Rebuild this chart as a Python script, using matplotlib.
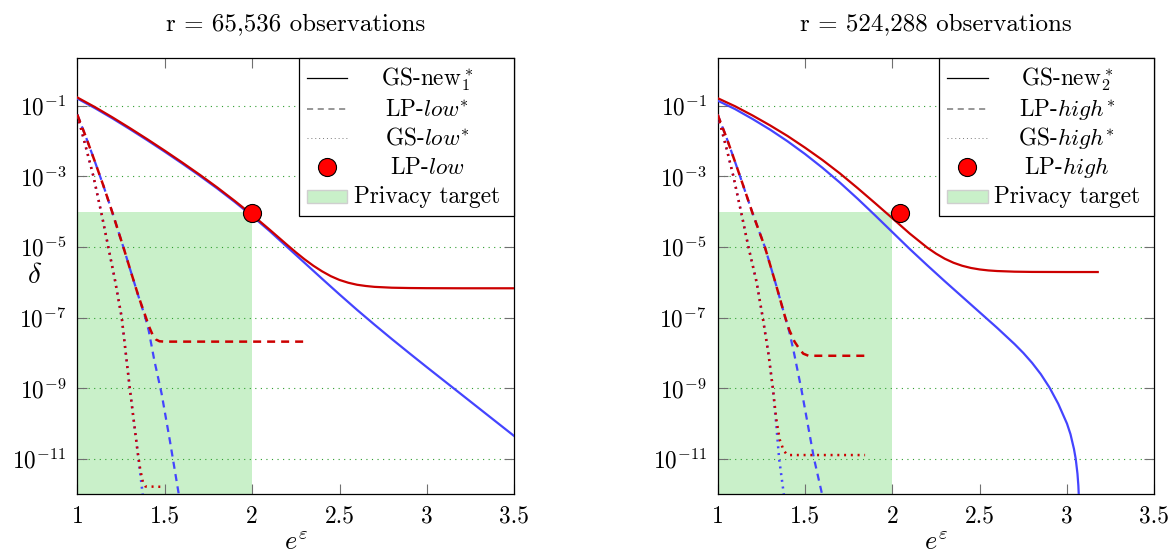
import numpy as np
import matplotlib
matplotlib.use('Agg')
import matplotlib.pyplot as plt
from matplotlib.patches import Rectangle
from matplotlib.ticker import NullLocator

plt.rcParams['font.family'] = 'cmr10'
plt.rcParams['mathtext.fontset'] = 'cm'
plt.rcParams['axes.formatter.use_mathtext'] = True
plt.rcParams['font.size'] = 16.8

RED = '#cc0000'
BLUE = '#4444ff'
TARGET = '#c9f0c9'

# all delta values below are log10(delta)

# ---- r = 65,536 ----
new1_blue_x = [1.0, 1.1, 1.2, 1.3, 1.4, 1.5, 1.6, 1.7, 1.8, 1.9, 2.0, 2.1, 2.2,
               2.3, 2.4, 2.5, 2.6, 2.7, 2.8, 2.9, 3.0, 3.1, 3.2, 3.3, 3.4, 3.5]
new1_blue = [-0.80, -1.07, -1.36, -1.665, -1.98, -2.305, -2.64, -2.985, -3.345,
             -3.725, -4.125, -4.55, -5.0, -5.45, -5.9, -6.345, -6.78, -7.2, -7.61,
             -8.01, -8.405, -8.795, -9.185, -9.575, -9.965, -10.355]
new1_red_x = [1.0, 1.1, 1.2, 1.3, 1.4, 1.5, 1.6, 1.7, 1.8, 1.9, 2.0, 2.1, 2.2,
              2.25, 2.3, 2.35, 2.4, 2.45, 2.5, 2.55, 2.6, 2.65, 2.7, 2.8, 2.9,
              3.0, 3.2, 3.5]
new1_red = [-0.77, -1.04, -1.33, -1.635, -1.95, -2.275, -2.61, -2.955, -3.315,
            -3.695, -4.09, -4.51, -4.94, -5.151, -5.35, -5.531, -5.69, -5.827,
            -5.935, -6.013, -6.07, -6.105, -6.13, -6.154, -6.163, -6.167, -6.17,
            -6.17]

lplow_red_x = [1.0, 1.05, 1.1, 1.13, 1.15, 1.2, 1.25, 1.263, 1.3, 1.35, 1.389,
               1.41, 1.43, 1.45, 1.47, 1.5, 2.316]
lplow_red = [-1.26, -1.9, -2.58, -3.0, -3.28, -4.02, -4.8, -5.0, -5.6, -6.4, -6.95,
             -7.25, -7.48, -7.62, -7.67, -7.68, -7.68]
lplow_blue_x = [1.0, 1.05, 1.1, 1.13, 1.15, 1.2, 1.25, 1.263, 1.3, 1.35, 1.389,
                1.408, 1.44, 1.482, 1.53, 1.582]
lplow_blue = [-1.26, -1.9, -2.58, -3.0, -3.28, -4.02, -4.8, -5.0, -5.6, -6.4, -7.0,
              -7.36, -8.2, -9.15, -10.5, -12.05]

gslow_red_x = [1.0, 1.05, 1.092, 1.14, 1.177, 1.215, 1.254, 1.277, 1.30, 1.325,
               1.345, 1.36, 1.375, 1.39, 1.5]
gslow_red = [-1.26, -2.2, -3.0, -4.1, -5.0, -5.93, -7.0, -8.0, -9.0, -10.0,
             -10.8, -11.3, -11.65, -11.78, -11.79]
gslow_blue_x = [1.0, 1.05, 1.092, 1.14, 1.177, 1.215, 1.254, 1.277, 1.30, 1.325,
                1.35, 1.375]
gslow_blue = [-1.26, -2.2, -3.0, -4.1, -5.0, -5.93, -7.0, -8.0, -9.0, -10.0,
              -11.0, -12.05]

lplow_pt = (2.0, -4.04)

# ---- r = 524,288 ----
new2_blue_x = [1.0, 1.1, 1.2, 1.3, 1.4, 1.5, 1.6, 1.7, 1.8, 1.9, 2.0, 2.1, 2.2,
               2.3, 2.4, 2.5, 2.6, 2.7, 2.75, 2.8, 2.85, 2.9, 2.95, 3.0, 3.02,
               3.04, 3.05, 3.06, 3.065, 3.07, 3.074]
new2_blue = [-0.86, -1.10, -1.38, -1.68, -2.01, -2.37, -2.76, -3.18, -3.63, -4.10,
             -4.58, -5.06, -5.52, -5.97, -6.41, -6.85, -7.29, -7.75, -8.0, -8.28,
             -8.6, -8.98, -9.44, -10.0, -10.3, -10.72, -11.0, -11.42, -11.75,
             -12.3, -13.0]
new2_red_x = [1.0, 1.1, 1.2, 1.3, 1.4, 1.5, 1.6, 1.7, 1.8, 1.9, 2.0, 2.1, 2.2,
              2.25, 2.3, 2.35, 2.4, 2.45, 2.5, 2.55, 2.6, 2.7, 2.8, 3.0, 3.176]
new2_red = [-0.79, -1.02, -1.28, -1.56, -1.86, -2.19, -2.54, -2.92, -3.33, -3.755,
            -4.187, -4.623, -5.02, -5.189, -5.333, -5.447, -5.533, -5.595, -5.637,
            -5.665, -5.682, -5.70, -5.707, -5.71, -5.71]

lphigh_red_x = [1.0, 1.05, 1.1, 1.128, 1.2, 1.27, 1.33, 1.387, 1.41, 1.44, 1.467,
                1.49, 1.52, 1.844]
lphigh_red = [-1.26, -1.9, -2.6, -3.0, -4.05, -5.0, -6.0, -7.0, -7.35, -7.68,
              -7.88, -8.02, -8.08, -8.08]
lphigh_blue_x = [1.0, 1.05, 1.1, 1.128, 1.2, 1.27, 1.33, 1.387, 1.41, 1.435,
                 1.48, 1.552, 1.60]
lphigh_blue = [-1.26, -1.9, -2.6, -3.0, -4.05, -5.0, -6.0, -7.0, -7.4, -7.95,
               -9.05, -11.0, -12.05]

gshigh_red_x = [1.0, 1.05, 1.09, 1.14, 1.176, 1.223, 1.258, 1.29, 1.316, 1.335,
                1.355, 1.377, 1.395, 1.41, 1.844]
gshigh_red = [-1.26, -2.2, -3.0, -4.15, -5.0, -6.0, -7.0, -8.0, -9.0, -9.85,
              -10.45, -10.75, -10.87, -10.89, -10.89]
gshigh_blue_x = [1.0, 1.05, 1.09, 1.14, 1.176, 1.223, 1.258, 1.29, 1.316, 1.335,
                 1.352, 1.38]
gshigh_blue = [-1.26, -2.2, -3.0, -4.15, -5.0, -6.0, -7.0, -8.0, -9.0, -10.0,
               -11.0, -12.05]

lphigh_pt = (2.046, -4.04)

target_x = [1.0, 2.0]
target_delta = 1e-4

xticks = [1, 1.5, 2, 2.5, 3, 3.5]
xtick_labels = ['1', '1.5', '2', '2.5', '3', '3.5']
yticks = [1e-1, 1e-3, 1e-5, 1e-7, 1e-9, 1e-11]
ytick_labels = [r'$10^{-1}$', r'$10^{-3}$', r'$10^{-5}$', r'$10^{-7}$',
                r'$10^{-9}$', r'$10^{-11}$']

titles = ['r = 65,536 observations', 'r = 524,288 observations']
keys = [[r'GS-new$_1^*$', r'LP-$low^{*}$', r'GS-$low^{*}$', r'LP-$low$', 'Privacy target'],
        [r'GS-new$_2^*$', r'LP-$high^{*}$', r'GS-$high^{*}$', r'LP-$high$', 'Privacy target']]


def d(v):
    return 10.0 ** np.asarray(v)


def setup(ax, title):
    ax.set_yscale('log')
    ax.set_xlim(1, 3.5)
    ax.set_ylim(1e-12, 10 ** 0.34)
    ax.set_xticks(xticks, xtick_labels)
    ax.set_yticks(yticks, ytick_labels)
    ax.yaxis.set_minor_locator(NullLocator())
    ax.xaxis.set_minor_locator(NullLocator())
    ax.tick_params(direction='in', length=7, width=0.8, color='#707070',
                   top=True, right=True)
    ax.tick_params(axis='x', pad=8)
    ax.tick_params(axis='y', pad=8)
    ax.set_axisbelow(True)
    ax.yaxis.grid(True, color='#2f9e2f', linestyle=(0, (1, 4)), linewidth=0.8)
    for s in ax.spines.values():
        s.set_linewidth(0.9)
    ax.text(0.5, 1.065, title, transform=ax.transAxes, ha='center', va='baseline',
            fontsize=18)
    ax.set_xlabel(r'$e^{\varepsilon}$', va='center', fontsize=19)
    ax.xaxis.set_label_coords(0.5, -0.112)
    ax.fill_between(target_x, 1e-14, target_delta, color=TARGET, lw=0, zorder=0.3)


def draw_key(ax, labels):
    tr = ax.transAxes
    ax.add_patch(Rectangle((0.507, 0.639), 0.493, 0.361, transform=tr,
                           facecolor='white', edgecolor='black', lw=0.9,
                           zorder=6, clip_on=False))
    rows = [0.954, 0.883, 0.818, 0.750, 0.683]
    hx = [0.525, 0.618]
    ax.plot(hx, [rows[0]] * 2, transform=tr, color='black', lw=0.9, zorder=7)
    ax.plot(hx, [rows[1]] * 2, transform=tr, color='#7a7a7a', lw=1.1,
            dashes=(4, 3), zorder=7)
    ax.plot(hx, [rows[2]] * 2, transform=tr, color='#7a7a7a', lw=0.7,
            dashes=(1, 3), zorder=7)
    ax.plot([sum(hx) / 2], [rows[3]], transform=tr, marker='o', ms=13,
            mfc='#ff0000', mec='black', mew=0.8, zorder=7)
    ax.add_patch(Rectangle((hx[0], rows[4] - 0.0145), hx[1] - hx[0], 0.029,
                           transform=tr, facecolor=TARGET, edgecolor='#cfcfcf',
                           lw=1.0, zorder=7))
    for r, lab in zip(rows, labels):
        ax.text(0.800, r - 0.016, lab, transform=tr, ha='center', va='baseline',
                zorder=8)


fig = plt.figure(figsize=(11.7, 5.58), dpi=100)
ax1 = fig.add_axes([0.0661, 0.1142, 0.3735, 0.7814])
ax2 = fig.add_axes([0.6134, 0.1142, 0.3732, 0.7814])

setup(ax1, titles[0])
setup(ax2, titles[1])

ax1.set_ylabel(r'$\delta$', rotation=0, ha='center', va='center', fontsize=21)
ax1.yaxis.set_label_coords(-0.097, 0.5)

# left: r = 65,536
ax1.plot(new1_blue_x, d(new1_blue), color=BLUE, lw=1.6, zorder=3)
ax1.plot(lplow_blue_x, d(lplow_blue), color=BLUE, lw=1.6, dashes=(3.2, 2.4), zorder=3)
ax1.plot(gslow_blue_x, d(gslow_blue), color=BLUE, lw=1.8, dashes=(0.8, 1.9), zorder=3)
ax1.plot(new1_red_x, d(new1_red), color=RED, lw=1.6, zorder=4)
ax1.plot(lplow_red_x, d(lplow_red), color=RED, lw=1.8, dashes=(3.2, 2.4), zorder=4)
ax1.plot(gslow_red_x, d(gslow_red), color=RED, lw=1.8, dashes=(0.8, 1.9), zorder=4)
ax1.plot([lplow_pt[0]], [d(lplow_pt[1])], marker='o', ms=13, mfc='#ff0000',
         mec='black', mew=0.8, zorder=5, clip_on=False)
draw_key(ax1, keys[0])

# right: r = 524,288
ax2.plot(new2_blue_x, d(new2_blue), color=BLUE, lw=1.6, zorder=3)
ax2.plot(lphigh_blue_x, d(lphigh_blue), color=BLUE, lw=1.6, dashes=(3.2, 2.4), zorder=3)
ax2.plot(gshigh_blue_x, d(gshigh_blue), color=BLUE, lw=1.8, dashes=(0.8, 1.9), zorder=3)
ax2.plot(new2_red_x, d(new2_red), color=RED, lw=1.6, zorder=4)
ax2.plot(lphigh_red_x, d(lphigh_red), color=RED, lw=1.8, dashes=(3.2, 2.4), zorder=4)
ax2.plot(gshigh_red_x, d(gshigh_red), color=RED, lw=1.8, dashes=(0.8, 1.9), zorder=4)
ax2.plot([lphigh_pt[0]], [d(lphigh_pt[1])], marker='o', ms=13, mfc='#ff0000',
         mec='black', mew=0.8, zorder=5, clip_on=False)
draw_key(ax2, keys[1])

fig.savefig('out.png', dpi=100)
